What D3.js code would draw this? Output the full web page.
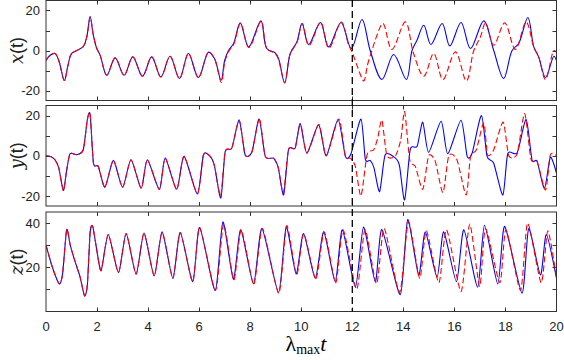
<!DOCTYPE html>
<html><head><meta charset="utf-8">
<script src="https://cdn.jsdelivr.net/npm/d3@7"></script>
<style>body{margin:0;background:#fff}svg{display:block}</style>
</head><body>
<svg id="c" width="564" height="360"></svg>
<script>
// ---- data ----
const xTicks = [0,2,4,6,8,10,12,14,16,18,20];
const xyTicks = [-20,-10,0,10,20];
const xyTickLabels = [-20,0,20];
const zTicks = [10,20,30,40];
const zTickLabels = [20,40];
const splitTime = 12;

const xTrue = [[0,-5],[0.15,-2.5],[0.35,-1.5],[0.5,-5],[0.72,-15],[0.85,-8],[1.0,-1.5],[1.2,0],[1.46,2],[1.6,7],[1.73,16.8],[1.85,8],[1.99,1],[2.12,-2.3],[2.38,-12.4],[2.71,-3.7],[3.06,-12.4],[3.4,-3.2],[3.78,-12.9],[4.14,-3.2],[4.5,-13.2],[4.86,-2.9],[5.23,-14],[5.58,-1.5],[5.97,-13.5],[6.37,-0.8],[6.6,-4],[6.86,-14.9],[7.0,-5],[7.15,0],[7.35,3.5],[7.61,13.8],[7.94,1.8],[8.42,14.8],[8.65,1],[8.98,-1.2],[9.11,-4],[9.35,-16.2],[9.57,-1.5],[9.83,4.3],[10.03,13.5],[10.29,3],[10.75,14],[11.07,1.8],[11.56,14],[11.96,1],[12.38,15.5],[12.7,0],[13.16,-14.5],[13.62,-2],[14.12,-14.5],[14.34,0],[14.53,5],[14.8,12.6],[15.08,3],[15.52,13.5],[15.82,2.3],[16.26,14],[16.63,1],[17.15,14.8],[17.54,0],[17.93,-14],[18.26,0],[18.52,3.5],[18.88,16.5],[19.11,1.8],[19.3,-3.2],[19.57,-13.5],[19.9,-2.9],[20,-5]];
const xPred = [[0,-5],[0.15,-2.5],[0.35,-1.5],[0.5,-5],[0.72,-15],[0.85,-8],[1.0,-1.5],[1.2,0],[1.46,2],[1.6,7],[1.73,16.8],[1.85,8],[1.99,1],[2.12,-2.3],[2.38,-12.4],[2.71,-3.7],[3.06,-12.4],[3.4,-3.2],[3.78,-12.9],[4.14,-3.2],[4.5,-13.2],[4.86,-2.9],[5.23,-14],[5.58,-1.5],[5.97,-13.5],[6.37,-0.8],[6.6,-4],[6.87,-16],[7.0,-6],[7.15,-0.5],[7.35,3],[7.62,13.5],[7.95,1.5],[8.43,14.5],[8.66,0.8],[8.98,-1.5],[9.11,-4.5],[9.35,-16],[9.57,-1.5],[9.83,4],[10.04,13.5],[10.3,2.5],[10.76,14],[11.08,1.2],[11.57,14.2],[11.85,3],[12.0,-1],[12.2,-8],[12.45,-15.2],[12.6,-7],[12.77,0],[12.95,7],[13.2,13.5],[13.55,0.5],[14.08,14.3],[14.4,-1.5],[14.8,-12.9],[15.19,-1.5],[15.55,-14.5],[16.04,-0.7],[16.47,-15.2],[16.76,0],[17.02,6.8],[17.22,13.8],[17.54,2.6],[17.97,13.8],[18.39,0.5],[18.81,14.3],[19.11,1.8],[19.3,-3.2],[19.57,-14.5],[19.9,0],[20,-1]];

const yTrue = [[0,0],[0.2,-0.5],[0.35,-2],[0.5,-6],[0.68,-17.3],[0.8,-8],[0.94,1],[1.2,0.5],[1.46,3],[1.62,18],[1.73,20.5],[1.86,-3.7],[2.05,-5.3],[2.31,-15.7],[2.64,-2.3],[3.0,-15.7],[3.33,-2],[3.73,-16.2],[3.97,-2],[4.44,-16.7],[4.67,-1.2],[5.12,-16.7],[5.41,-0.3],[5.93,-19],[6.17,0.5],[6.43,-0.3],[6.6,-5],[6.85,-21],[7.02,2],[7.28,3.8],[7.57,17.7],[7.8,0.5],[8.07,2],[8.35,18.3],[8.59,-0.3],[8.91,-1.2],[9.1,-6],[9.31,-19.5],[9.5,3],[9.76,3.8],[9.96,16],[10.22,1.3],[10.68,15.5],[10.98,0],[11.44,18],[11.73,-0.3],[11.95,1],[12.34,18.3],[12.51,-1.7],[12.7,-2.3],[12.85,-6],[13.07,-17.8],[13.29,0.5],[13.69,-1.2],[13.85,-5],[14.05,-22],[14.27,3],[14.54,4.7],[14.76,16.7],[14.99,1.7],[15.48,17.2],[15.74,1],[16.26,17.7],[16.5,-0.3],[16.7,1.5],[17.06,20],[17.28,-0.3],[17.54,-3.7],[17.9,-19.5],[18.09,1],[18.46,1.5],[18.81,18],[19.04,-2],[19.24,-2.8],[19.53,-16.2],[19.76,-0.7],[20,-8.7]];
const yPred = [[0,0],[0.2,-0.5],[0.35,-2],[0.5,-6],[0.68,-17.3],[0.8,-8],[0.94,1],[1.2,0.5],[1.46,3],[1.62,18],[1.73,20.5],[1.86,-3.7],[2.05,-5.3],[2.31,-15.7],[2.64,-2.3],[3.0,-15.7],[3.33,-2],[3.73,-16.2],[3.97,-2],[4.44,-16.7],[4.67,-1.2],[5.12,-16.7],[5.41,-0.3],[5.93,-19],[6.17,0.5],[6.43,-0.3],[6.6,-5],[6.84,-20],[7.02,2],[7.28,3.8],[7.57,17.7],[7.8,0.5],[8.07,2],[8.36,18.3],[8.59,-0.3],[8.91,-1.2],[9.1,-6],[9.3,-18.5],[9.5,3],[9.76,3.8],[9.97,16],[10.22,1.3],[10.69,15.5],[10.98,0],[11.47,18.3],[11.73,-0.3],[11.92,-1.2],[12.12,-5.3],[12.34,-20],[12.58,0.5],[12.84,3],[13.0,9],[13.16,17.7],[13.36,0],[13.69,0],[13.9,8],[14.05,22],[14.25,-2],[14.47,-5.3],[14.76,-16.7],[14.99,0],[15.25,-2.8],[15.55,-18.3],[15.78,0],[16.1,-2],[16.46,-19.5],[16.63,-0.5],[16.86,3],[17.15,16.3],[17.3,0.5],[17.54,3],[17.91,16.7],[18.13,0],[18.46,1],[18.75,21],[19.0,-1.7],[19.24,-2.8],[19.57,-17],[19.76,0.5],[20,0]];

const zTrue = [[0,30],[0.25,20],[0.52,12.5],[0.65,17],[0.81,37],[0.95,30],[1.1,24],[1.33,15.8],[1.51,7.1],[1.62,12],[1.73,36],[1.83,38.5],[1.99,27.8],[2.16,18.5],[2.44,34.8],[2.84,17.6],[3.14,35.3],[3.53,16.9],[3.84,35.5],[4.24,16.1],[4.55,36],[4.97,15],[5.26,35.7],[5.75,13.5],[6.02,38],[6.63,9.5],[6.93,40.5],[7.34,14.6],[7.63,37],[8.13,12.5],[8.46,37.5],[9.11,8.6],[9.41,38.2],[9.8,17],[10.09,35.3],[10.55,15],[10.88,36],[11.33,13.5],[11.61,37],[12.12,11],[12.44,38.2],[12.9,13.5],[13.16,37],[13.88,7.6],[14.17,41.5],[14.6,16.5],[14.86,36],[15.32,15.5],[15.58,36],[16.08,13.5],[16.37,37],[16.91,11],[17.18,39],[17.7,12.5],[17.97,38.5],[18.65,8.3],[18.91,37.5],[19.37,16.5],[19.6,34.8],[20,15]];
const zPred = [[0,30],[0.25,20],[0.52,12.5],[0.65,17],[0.81,37],[0.95,30],[1.1,24],[1.33,15.8],[1.51,7.1],[1.62,12],[1.73,36],[1.83,38.5],[1.99,27.8],[2.16,18.5],[2.44,34.8],[2.84,17.6],[3.14,35.3],[3.53,16.9],[3.84,35.5],[4.24,16.1],[4.55,36],[4.97,15],[5.26,35.7],[5.75,13.5],[6.02,38],[6.64,9.5],[6.96,39.5],[7.36,14.2],[7.65,37],[8.14,12.2],[8.48,37.5],[9.12,8.2],[9.43,38.8],[9.82,16.5],[10.1,35.3],[10.57,14.6],[10.9,36],[11.35,13],[11.64,37],[12.17,10],[12.5,37],[12.95,12.5],[13.25,37.5],[13.85,8.6],[14.2,40.5],[14.64,15],[14.9,36.5],[15.39,13],[15.69,37],[16.26,9],[16.6,39.5],[16.99,11.3],[17.22,37.5],[17.78,13],[18.02,37],[18.59,9.5],[18.87,40],[19.4,13],[19.66,36.5],[20,15]];

// ---- drawing ----
const svg = d3.select('#c');
const left = 46, right = 556.5;
const x = d3.scaleLinear().domain([0,20]).range([left,right]);
const frameColor = '#333';

const panels = [
  {top:0.5, bottom:100.5, domain:[-25,25], ticks:xyTicks, labels:xyTickLabels, truth:xTrue, pred:xPred, name:'x', curve:d3.curveCatmullRom.alpha(0.5)},
  {top:105.5, bottom:206, domain:[-25,25], ticks:xyTicks, labels:xyTickLabels, truth:yTrue, pred:yPred, name:'y', curve:d3.curveCardinal.tension(0.3)},
  {top:212, bottom:311.5, domain:[0,45], ticks:zTicks, labels:zTickLabels, truth:zTrue, pred:zPred, name:'z', curve:d3.curveCardinal.tension(0.35)}
];

panels.forEach((p,i)=>{
  const y = d3.scaleLinear().domain(p.domain).range([p.bottom,p.top]);
  const g = svg.append('g');
  const cid = 'clip'+i;
  svg.append('clipPath').attr('id',cid).append('rect')
    .attr('x',left).attr('y',p.top).attr('width',right-left).attr('height',p.bottom-p.top);
  const line = d3.line().x(d=>x(d[0])).y(d=>y(d[1])).curve(p.curve);
  const lg = g.append('g').attr('clip-path',`url(#${cid})`);
  lg.append('path').attr('d',line(p.truth)).attr('fill','none').attr('stroke','#0000ff').attr('stroke-width',1.1);
  lg.append('path').attr('d',line(p.pred)).attr('fill','none').attr('stroke','#ff0000').attr('stroke-width',1.1).attr('stroke-dasharray','6,3');

  // frame
  g.append('rect').attr('x',left).attr('y',p.top).attr('width',right-left).attr('height',p.bottom-p.top)
    .attr('fill','none').attr('stroke',frameColor).attr('stroke-width',1);
  const tl = 4;
  p.ticks.forEach(v=>{
    const yy = Math.round(y(v))+0.5;
    g.append('line').attr('x1',left).attr('x2',left+tl).attr('y1',yy).attr('y2',yy).attr('stroke',frameColor);
    g.append('line').attr('x1',right-tl).attr('x2',right).attr('y1',yy).attr('y2',yy).attr('stroke',frameColor);
  });
  p.labels.forEach(v=>{
    g.append('text').attr('x',left-6).attr('y',y(v)).attr('dy','0.35em').attr('text-anchor','end')
      .attr('font-family','Liberation Sans, Arial, sans-serif').attr('font-size',13).attr('fill','#222')
      .text(v<0?'-'+Math.abs(v):v);
  });
  xTicks.forEach(v=>{
    const xx = Math.round(x(v))+0.5;
    if (v>0 && v<20){
      g.append('line').attr('x1',xx).attr('x2',xx).attr('y1',p.top).attr('y2',p.top+tl).attr('stroke',frameColor);
      g.append('line').attr('x1',xx).attr('x2',xx).attr('y1',p.bottom-tl).attr('y2',p.bottom).attr('stroke',frameColor);
    }
  });
  const lab = svg.append('text').attr('transform',`translate(23,${(p.top+p.bottom)/2}) rotate(-90)`)
    .attr('text-anchor','middle').attr('font-size',18).attr('fill','#222');
  lab.append('tspan').attr('font-family','DejaVu Serif, Liberation Serif, serif').attr('font-style','italic').text(p.name);
  lab.append('tspan').attr('font-family','Liberation Sans, Arial, sans-serif').text('(t)');

  if (i===2){
    xTicks.forEach(v=>{
      g.append('text').attr('x',x(v)).attr('y',331).attr('text-anchor','middle')
        .attr('font-family','Liberation Sans, Arial, sans-serif').attr('font-size',13).attr('fill','#222').text(v);
    });
  }
});

svg.append('line').attr('x1',x(splitTime)).attr('x2',x(splitTime)).attr('y1',0).attr('y2',311.5)
  .attr('stroke','#000').attr('stroke-width',1.3).attr('stroke-dasharray','7,4');

const xl = svg.append('text').attr('x',306).attr('y',351).attr('text-anchor','middle')
  .attr('font-family','Liberation Serif, DejaVu Serif, serif').attr('font-size',22).attr('fill','#000');
xl.append('tspan').text('λ');
xl.append('tspan').attr('font-size',14).attr('dy',3).text('max');
xl.append('tspan').attr('dy',-3).attr('font-style','italic').text('t');
</script>
</body></html>
